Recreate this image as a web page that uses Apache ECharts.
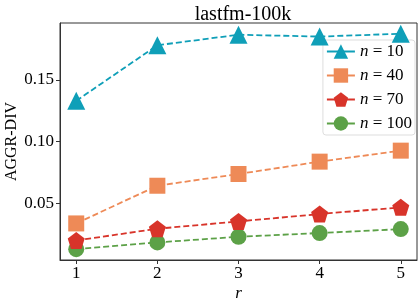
<!DOCTYPE html>
<html><head><meta charset="utf-8">
<script src="https://cdn.jsdelivr.net/npm/echarts@6/dist/echarts.min.js"></script>
<style>html,body{margin:0;padding:0;background:#fff}#c{width:419px;height:300px}</style>
</head><body><div id="c"></div>
<script>
const rValues = [1, 2, 3, 4, 5];
const n10 = [0.133, 0.178, 0.1865, 0.185, 0.1873];
const n40 = [0.0338, 0.0643, 0.0738, 0.0838, 0.0927];
const n70 = [0.0200, 0.0295, 0.0354, 0.0414, 0.0468];
const n100 = [0.0130, 0.0184, 0.0230, 0.0260, 0.0292];
const seriesNames = ['10', '40', '70', '100'];
const yTicks = [0.05, 0.10, 0.15];

const font = 'Liberation Serif';
const pentagon = 'path://M0,-1 L0.951,-0.309 L0.588,0.809 L-0.588,0.809 L-0.951,-0.309 Z';
const colors = ['#0f9fb8', '#ee8a57', '#d8342a', '#5ca147'];
const symbols = ['triangle', 'rect', pentagon, 'circle'];
const sizes = [18, 16, 17, 16];
const data = [n10, n40, n70, n100];

const chart = echarts.init(document.getElementById('c'), null, {renderer: 'canvas'});
chart.setOption({
  animation: false,
  title: {text: 'lastfm-100k', left: 238, top: 0, textAlign: 'center',
    textStyle: {fontFamily: font, fontSize: 20, fontWeight: 'normal', color: '#000'}},
  grid: {left: 60, right: 2, top: 23, bottom: 40, show: true, borderColor: '#333', borderWidth: 1,
    backgroundColor: 'transparent', containLabel: false, outerBoundsMode: 'none'},
  legend: {
    right: 4, top: 40, orient: 'vertical', itemGap: 7, itemWidth: 28, itemHeight: 18,
    backgroundColor: 'rgba(255,255,255,0.8)', borderColor: '#ddd', borderWidth: 1, borderRadius: 3,
    padding: [3, 3, 3, 3],
    data: seriesNames.map(s => 'n = ' + s),
    formatter: name => '{i|n} = ' + name.slice(4),
    textStyle: {fontFamily: font, fontSize: 17, color: '#000',
      rich: {i: {fontFamily: font, fontSize: 17, fontStyle: 'italic'}}},
    lineStyle: {type: 'solid'}
  },
  xAxis: {
    type: 'value', min: 0.8, max: 5.2,
    name: 'r', nameLocation: 'middle', nameGap: 25, nameMoveOverlap: false,
    nameTextStyle: {fontFamily: font, fontSize: 17, fontStyle: 'italic', color: '#000'},
    axisLine: {show: true, lineStyle: {color: '#333', width: 1}},
    axisTick: {show: true, length: 4, customValues: rValues, lineStyle: {color: '#333'}},
    axisLabel: {customValues: rValues, fontFamily: font, fontSize: 17, color: '#000', margin: 5},
    splitLine: {show: false}
  },
  yAxis: {
    type: 'value', min: 0.0042, max: 0.196,
    name: 'AGGR-DIV', nameLocation: 'middle', nameGap: 40, nameMoveOverlap: false,
    nameTextStyle: {fontFamily: font, fontSize: 16, color: '#000'},
    axisLine: {show: true, lineStyle: {color: '#333', width: 1}},
    axisTick: {show: true, length: 4, customValues: yTicks, lineStyle: {color: '#333'}},
    axisLabel: {customValues: yTicks, fontFamily: font, fontSize: 17, color: '#000', margin: 6,
      formatter: v => v.toFixed(2)},
    splitLine: {show: false}
  },
  series: data.map((d, i) => ({
    name: 'n = ' + seriesNames[i], type: 'line',
    data: d.map((v, j) => [rValues[j], v]),
    symbol: symbols[i], symbolSize: sizes[i],
    lineStyle: {color: colors[i], width: 1.8, type: [6, 3]},
    itemStyle: {color: colors[i]},
    color: colors[i], z: 10 - i
  }))
});
</script></body></html>
